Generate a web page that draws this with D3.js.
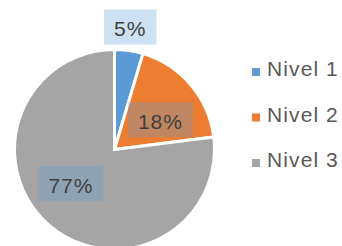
<!DOCTYPE html>
<html>
<head>
<meta charset="utf-8">
<script src="https://cdn.jsdelivr.net/npm/d3@7"></script>
<style>
  html, body { margin: 0; padding: 0; background: #fff; }
  svg { display: block; font-family: "Liberation Sans", Arial, sans-serif; }
</style>
</head>
<body>
<svg width="342" height="246"></svg>
<script>
const categories = ['Nivel 1', 'Nivel 2', 'Nivel 3'];
const values = [4.6, 18.4, 77];
const colors = ['#5b9bd5', '#ed7d31', '#a5a5a5'];

const [width, height] = [342, 246];
const cx = 114.5, cy = 149.5, r = 100;

// where excel put the data labels: radius from centre and angle nudge (deg)
const labelPlace = [
  {r: 124, da: -1},
  {r: 55, da: 7},
  {r: 55, da: 11},
];

const svg = d3.select('svg').attr('viewBox', [0, 0, width, height]);

const pie = d3.pie().sort(null).value(d => d);
const arcs = pie(values);

const arc = d3.arc().innerRadius(0).outerRadius(r);

const g = svg.append('g').attr('transform', `translate(${cx},${cy})`);

g.selectAll('path')
  .data(arcs)
  .join('path')
  .attr('d', arc)
  .attr('fill', (d, i) => colors[i])
  .attr('stroke', '#fff')
  .attr('stroke-width', 3)
  .attr('stroke-linejoin', 'miter');

// data labels
const labels = g.selectAll('g.label')
  .data(arcs)
  .join('g')
  .classed('label', true)
  .attr('transform', (d, i) => {
    const a = (d.startAngle + d.endAngle) / 2 + labelPlace[i].da * Math.PI / 180;
    const lr = labelPlace[i].r;
    return `translate(${lr * Math.sin(a)},${-lr * Math.cos(a)})`;
  });

labels.append('rect');
labels.append('text')
  .attr('text-anchor', 'middle')
  .attr('y', 10)
  .attr('font-size', 21)
  .attr('letter-spacing', 1)
  .attr('fill', '#404040')
  .text(d => Math.round(d.data) + '%');

labels.each(function() {
  const s = d3.select(this);
  const w = s.select('text').node().getComputedTextLength();
  s.select('rect')
    .attr('x', -w / 2 - 10)
    .attr('y', -17)
    .attr('width', w + 20)
    .attr('height', 35)
    .attr('fill', '#5b9bd5')
    .attr('fill-opacity', 0.3);
});

// legend
const legend = svg.append('g')
  .attr('transform', 'translate(252,76)')
  .selectAll('g')
  .data(categories)
  .join('g')
  .attr('transform', (d, i) => `translate(0,${i * 45.5})`);

legend.append('rect')
  .attr('x', 0)
  .attr('y', -8)
  .attr('width', 8)
  .attr('height', 8)
  .attr('fill', (d, i) => colors[i]);

legend.append('text')
  .attr('x', 15)
  .attr('y', 0)
  .attr('font-size', 21)
  .attr('letter-spacing', 1.1)
  .attr('fill', '#595959')
  .text(d => d);
</script>
</body>
</html>
